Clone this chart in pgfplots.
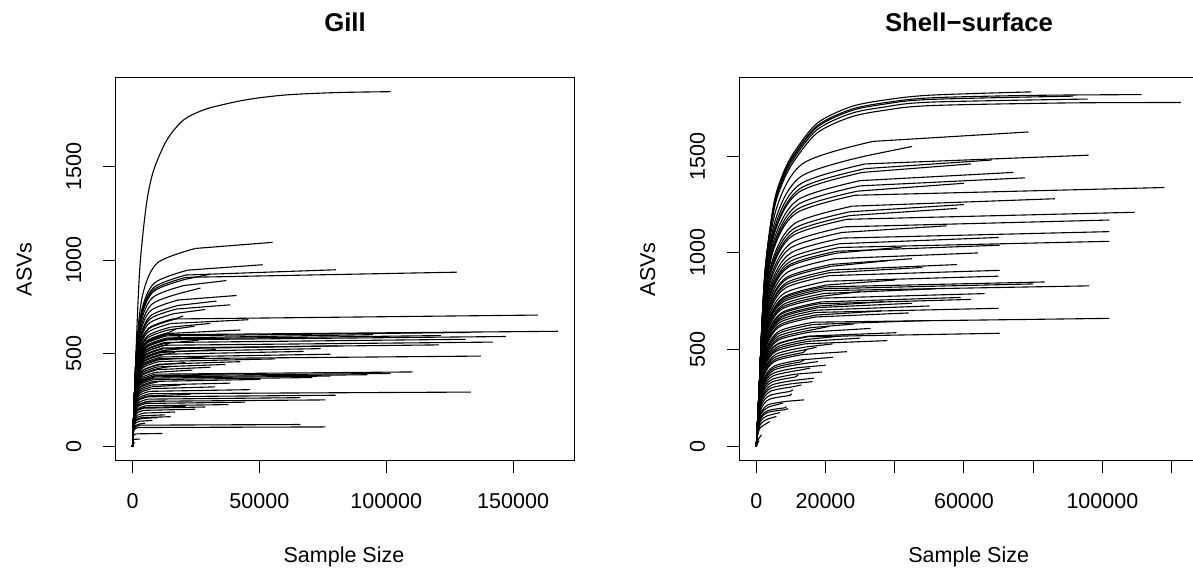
\documentclass[border=0pt]{standalone}
\usepackage{fontspec}
\setmainfont{Liberation Sans}
\usepackage{pgfplots}
\pgfplotsset{compat=1.18}
\pgfplotsset{
 rare/.style={
  scale only axis, width=229.5pt, height=191.5pt, anchor=south west,
  axis line style={line width=0.5pt, black},
  tick align=outside, major tick length=6.35pt,
  xtick pos=left, ytick pos=left,
  tick style={black, line width=0.5pt},
  scaled x ticks=false, scaled y ticks=false,
  every tick label/.append style={font=\fontsize{10.75pt}{12pt}\selectfont},
  /pgf/number format/assume math mode=true,
  yticklabel style={rotate=90, anchor=south, inner sep=0pt},
  xticklabel style={anchor=north, inner sep=0pt},
  xticklabel shift=9.95pt, yticklabel shift=10.55pt,
  every axis plot post/.append style={black, solid, mark=none, line width=0.55pt, tension=0.5},
 }
}
\begin{document}
\begin{tikzpicture}
\begin{axis}[rare, at={(57.75pt,55.15pt)},
  xmin=-6700, xmax=174200, ymin=-76, ymax=1978,
  xtick={0,50000,100000,150000}, xticklabels={0,50000,100000,150000},
  ytick={0,500,1000,1500}, yticklabels={0,500,1000,1500}]
\addplot[smooth] coordinates {(0,0)(800,270)(1700,620)(3000,980)(5500,1300)(8300,1480)(13600,1645)(20000,1750)(27000,1800)(33000,1825)(45000,1860)(60000,1885)(80000,1898)(101700,1903)};
\addplot[smooth] coordinates {(0,0)(660,219)(1650,547.5)(4125,821.3)(9900,985.5)(24750,1062.2)};\addplot[sharp plot] coordinates {(24750,1062.2)(55200,1095)};
\addplot[smooth] coordinates {(0,0)(580,195)(1450,487.5)(3625,731.3)(8700,877.5)(21750,945.8)};\addplot[sharp plot] coordinates {(21750,945.8)(51300,975)};
\addplot[smooth] coordinates {(0,0)(560,189.6)(1400,474)(3500,711)(8400,853.2)(21000,919.6)};\addplot[sharp plot] coordinates {(21000,919.6)(80100,948)};
\addplot[smooth] coordinates {(0,0)(560,187)(1400,467.5)(3500,701.3)(8400,841.5)(21000,907)};\addplot[sharp plot] coordinates {(21000,907)(127800,935)};
\addplot[smooth] coordinates {(0,0)(560,185)(1400,462.5)(3500,693.8)(8400,832.5)(21000,897.3)};\addplot[sharp plot] coordinates {(21000,897.3)(30800,925)};
\addplot[smooth] coordinates {(0,0)(540,178)(1350,445)(3375,667.5)(8100,801)(20250,863.3)};\addplot[sharp plot] coordinates {(20250,863.3)(37000,890)};
\addplot[smooth] coordinates {(0,0)(520,170)(1300,425)(3250,637.5)(7800,765)(19500,824.5)};\addplot[sharp plot] coordinates {(19500,824.5)(26800,850)};
\addplot[smooth] coordinates {(0,0)(480,162)(1200,405)(3000,607.5)(7200,729)(18000,785.7)};\addplot[sharp plot] coordinates {(18000,785.7)(41000,810)};
\addplot[smooth] coordinates {(0,0)(480,156)(1200,390)(3000,585)(7200,702)(18000,756.6)};\addplot[sharp plot] coordinates {(18000,756.6)(33100,780)};
\addplot[smooth] coordinates {(0,0)(460,152)(1150,380)(2875,570)(6900,684)(17250,737.2)};\addplot[sharp plot] coordinates {(17250,737.2)(38600,760)};
\addplot[smooth] coordinates {(0,0)(440,147)(1100,367.5)(2750,551.3)(6600,661.5)(16500,713)};\addplot[sharp plot] coordinates {(16500,713)(28700,735)};
\addplot[smooth] coordinates {(0,0)(420,141)(1050,352.5)(2625,528.8)(6300,634.5)(15750,683.9)};\addplot[sharp plot] coordinates {(15750,683.9)(159800,705)};
\addplot[smooth] coordinates {(0,0)(400,136)(1000,340)(2500,510)(6000,612)(15000,659.6)};\addplot[sharp plot] coordinates {(15000,659.6)(45700,680)};
\addplot[smooth] coordinates {(0,0)(400,132)(1000,330)(2500,495)(6000,594)(15000,640.2)};\addplot[sharp plot] coordinates {(15000,640.2)(30700,660)};
\addplot[smooth] coordinates {(0,0)(380,129)(950,322.5)(2375,483.8)(5700,580.5)(14250,625.7)};\addplot[sharp plot] coordinates {(14250,625.7)(24400,645)};
\addplot[smooth] coordinates {(0,0)(380,125)(950,312.5)(2375,468.8)(5700,562.5)(14250,606.3)};\addplot[sharp plot] coordinates {(14250,606.3)(42500,625)};
\addplot[smooth] coordinates {(0,0)(360,123.6)(900,309)(2250,463.5)(5400,556.2)(13500,599.5)};\addplot[sharp plot] coordinates {(13500,599.5)(167600,618)};
\addplot[smooth] coordinates {(0,0)(360,122.4)(900,306)(2250,459)(5400,550.8)(13500,593.6)};\addplot[sharp plot] coordinates {(13500,593.6)(133300,612)};
\addplot[smooth] coordinates {(0,0)(360,120)(900,300)(2250,450)(5400,540)(13500,582)};\addplot[sharp plot] coordinates {(13500,582)(94700,600)};
\addplot[smooth] coordinates {(0,0)(360,119)(900,297.5)(2250,446.3)(5400,535.5)(13500,577.2)};\addplot[sharp plot] coordinates {(13500,577.2)(121500,595)};
\addplot[smooth] coordinates {(0,0)(360,118)(900,295)(2250,442.5)(5400,531)(13500,572.3)};\addplot[sharp plot] coordinates {(13500,572.3)(147200,590)};
\addplot[smooth] coordinates {(0,0)(340,115)(850,287.5)(2125,431.3)(5100,517.5)(12750,557.8)};\addplot[sharp plot] coordinates {(12750,557.8)(131300,575)};
\addplot[smooth] coordinates {(0,0)(340,112)(850,280)(2125,420)(5100,504)(12750,543.2)};\addplot[sharp plot] coordinates {(12750,543.2)(142000,560)};
\addplot[smooth] coordinates {(0,0)(320,109)(800,272.5)(2000,408.8)(4800,490.5)(12000,528.7)};\addplot[sharp plot] coordinates {(12000,528.7)(120700,545)};
\addplot[smooth] coordinates {(0,0)(320,108)(800,270)(2000,405)(4800,486)(12000,523.8)};\addplot[sharp plot] coordinates {(12000,523.8)(80800,540)};
\addplot[smooth] coordinates {(0,0)(320,105)(800,262.5)(2000,393.8)(4800,472.5)(12000,509.3)};\addplot[sharp plot] coordinates {(12000,509.3)(74100,525)};
\addplot[smooth] coordinates {(0,0)(300,102)(750,255)(1875,382.5)(4500,459)(11250,494.7)};\addplot[sharp plot] coordinates {(11250,494.7)(67400,510)};
\addplot[smooth] coordinates {(0,0)(300,99)(750,247.5)(1875,371.3)(4500,445.5)(11250,480.2)};\addplot[sharp plot] coordinates {(11250,480.2)(78000,495)};
\addplot[smooth] coordinates {(0,0)(280,97)(700,242.5)(1750,363.8)(4200,436.5)(10500,470.5)};\addplot[sharp plot] coordinates {(10500,470.5)(137300,485)};
\addplot[smooth] coordinates {(0,0)(280,94)(700,235)(1750,352.5)(4200,423)(10500,455.9)};\addplot[sharp plot] coordinates {(10500,455.9)(56300,470)};
\addplot[smooth] coordinates {(0,0)(280,91)(700,227.5)(1750,341.3)(4200,409.5)(10500,441.4)};\addplot[sharp plot] coordinates {(10500,441.4)(42500,455)};
\addplot[smooth] coordinates {(0,0)(260,88)(650,220)(1625,330)(3900,396)(9750,426.8)};\addplot[sharp plot] coordinates {(9750,426.8)(36600,440)};
\addplot[smooth] coordinates {(0,0)(260,85)(650,212.5)(1625,318.8)(3900,382.5)(9750,412.3)};\addplot[sharp plot] coordinates {(9750,412.3)(30700,425)};
\addplot[smooth] coordinates {(0,0)(240,82)(600,205)(1500,307.5)(3600,369)(9000,397.7)};\addplot[sharp plot] coordinates {(9000,397.7)(23600,410)};
\addplot[smooth] coordinates {(0,0)(240,80)(600,200)(1500,300)(3600,360)(9000,388)};\addplot[sharp plot] coordinates {(9000,388)(110400,400)};
\addplot[smooth] coordinates {(0,0)(240,78.4)(600,196)(1500,294)(3600,352.8)(9000,380.2)};\addplot[sharp plot] coordinates {(9000,380.2)(101700,392)};
\addplot[smooth] coordinates {(0,0)(240,77)(600,192.5)(1500,288.8)(3600,346.5)(9000,373.5)};\addplot[sharp plot] coordinates {(9000,373.5)(92600,385)};
\addplot[smooth] coordinates {(0,0)(220,75.6)(550,189)(1375,283.5)(3300,340.2)(8250,366.7)};\addplot[sharp plot] coordinates {(8250,366.7)(78000,378)};
\addplot[smooth] coordinates {(0,0)(220,74)(550,185)(1375,277.5)(3300,333)(8250,358.9)};\addplot[sharp plot] coordinates {(8250,358.9)(70900,370)};
\addplot[smooth] coordinates {(0,0)(220,72)(550,180)(1375,270)(3300,324)(8250,349.2)};\addplot[sharp plot] coordinates {(8250,349.2)(50400,360)};
\addplot[smooth] coordinates {(0,0)(200,68)(500,170)(1250,255)(3000,306)(7500,329.8)};\addplot[sharp plot] coordinates {(7500,329.8)(38600,340)};
\addplot[smooth] coordinates {(0,0)(200,64)(500,160)(1250,240)(3000,288)(7500,310.4)};\addplot[sharp plot] coordinates {(7500,310.4)(32600,320)};
\addplot[smooth] coordinates {(0,0)(180,61)(450,152.5)(1125,228.8)(2700,274.5)(6750,295.9)};\addplot[sharp plot] coordinates {(6750,295.9)(46400,305)};
\addplot[smooth] coordinates {(0,0)(180,58.4)(450,146)(1125,219)(2700,262.8)(6750,283.2)};\addplot[sharp plot] coordinates {(6750,283.2)(133400,292)};
\addplot[smooth] coordinates {(0,0)(160,55)(400,137.5)(1000,206.3)(2400,247.5)(6000,266.8)};\addplot[sharp plot] coordinates {(6000,266.8)(80100,275)};
\addplot[smooth] coordinates {(0,0)(160,52.4)(400,131)(1000,196.5)(2400,235.8)(6000,254.1)};\addplot[sharp plot] coordinates {(6000,254.1)(66200,262)};
\addplot[smooth] coordinates {(0,0)(160,50)(400,125)(1000,187.5)(2400,225)(6000,242.5)};\addplot[sharp plot] coordinates {(6000,242.5)(76000,250)};
\addplot[smooth] coordinates {(0,0)(140,47.6)(350,119)(875,178.5)(2100,214.2)(5250,230.9)};\addplot[sharp plot] coordinates {(5250,230.9)(44500,238)};
\addplot[smooth] coordinates {(0,0)(140,45)(350,112.5)(875,168.8)(2100,202.5)(5250,218.3)};\addplot[sharp plot] coordinates {(5250,218.3)(37800,225)};
\addplot[smooth] coordinates {(0,0)(120,42.4)(300,106)(750,159)(1800,190.8)(4500,205.6)};\addplot[sharp plot] coordinates {(4500,205.6)(28700,212)};
\addplot[smooth] coordinates {(0,0)(120,40)(300,100)(750,150)(1800,180)(4500,194)};\addplot[sharp plot] coordinates {(4500,194)(24700,200)};
\addplot[smooth] coordinates {(0,0)(120,37)(300,92.5)(750,138.8)(1800,166.5)(4500,179.5)};\addplot[sharp plot] coordinates {(4500,179.5)(16800,185)};
\addplot[smooth] coordinates {(0,0)(100,34)(250,85)(625,127.5)(1500,153)(3750,164.9)};\addplot[sharp plot] coordinates {(3750,164.9)(12900,170)};
\addplot[smooth] coordinates {(0,0)(100,31)(250,77.5)(625,116.3)(1500,139.5)(3750,150.4)};\addplot[sharp plot] coordinates {(3750,150.4)(10100,155)};
\addplot[smooth] coordinates {(0,0)(80,28)(200,70)(500,105)(1200,126)(3000,135.8)};\addplot[sharp plot] coordinates {(3000,135.8)(7800,140)};
\addplot[smooth] coordinates {(0,0)(80,25)(200,62.5)(500,93.8)(1200,112.5)(3000,121.3)};\addplot[sharp plot] coordinates {(3000,121.3)(5000,125)};
\addplot[smooth] coordinates {(0,0)(80,23.6)(200,59)(500,88.5)(1200,106.2)(3000,114.5)};\addplot[sharp plot] coordinates {(3000,114.5)(66200,118)};
\addplot[smooth] coordinates {(0,0)(60,21)(150,52.5)(375,78.8)(900,94.5)(2250,101.9)};\addplot[sharp plot] coordinates {(2250,101.9)(76000,105)};
\addplot[smooth] coordinates {(0,0)(40,14)(100,35)(250,52.5)(600,63)(1500,67.9)};\addplot[sharp plot] coordinates {(1500,67.9)(11800,70)};
\addplot[smooth] coordinates {(0,0)(24,8)(60,20)(150,30)(360,36)(900,38.8)};\addplot[sharp plot] coordinates {(900,38.8)(3000,40)};
\addplot[smooth] coordinates {(0,0)(12,4)(30,10)(75,15)(180,18)(450,19.4)};\addplot[sharp plot] coordinates {(450,19.4)(1000,20)};
\addplot[smooth] coordinates {(0,0)(360,118)(900,295)(2250,442.5)(5400,531)(13500,572.3)};\addplot[sharp plot] coordinates {(13500,572.3)(18900,590)};
\addplot[smooth] coordinates {(0,0)(340,112)(850,280)(2125,420)(5100,504)(12750,543.2)};\addplot[sharp plot] coordinates {(12750,543.2)(15000,560)};
\addplot[smooth] coordinates {(0,0)(320,106)(800,265)(2000,397.5)(4800,477)(12000,514.1)};\addplot[sharp plot] coordinates {(12000,514.1)(22800,530)};
\addplot[smooth] coordinates {(0,0)(300,101)(750,252.5)(1875,378.8)(4500,454.5)(11250,489.9)};\addplot[sharp plot] coordinates {(11250,489.9)(16800,505)};
\addplot[smooth] coordinates {(0,0)(280,96)(700,240)(1750,360)(4200,432)(10500,465.6)};\addplot[sharp plot] coordinates {(10500,465.6)(28700,480)};
\addplot[smooth] coordinates {(0,0)(260,90)(650,225)(1625,337.5)(3900,405)(9750,436.5)};\addplot[sharp plot] coordinates {(9750,436.5)(20800,450)};
\addplot[smooth] coordinates {(0,0)(260,86)(650,215)(1625,322.5)(3900,387)(9750,417.1)};\addplot[sharp plot] coordinates {(9750,417.1)(15000,430)};
\addplot[smooth] coordinates {(0,0)(200,70)(500,175)(1250,262.5)(3000,315)(7500,339.5)};\addplot[sharp plot] coordinates {(7500,339.5)(11000,350)};
\addplot[smooth] coordinates {(0,0)(200,66)(500,165)(1250,247.5)(3000,297)(7500,320.1)};\addplot[sharp plot] coordinates {(7500,320.1)(18900,330)};
\addplot[smooth] coordinates {(0,0)(160,56)(400,140)(1000,210)(2400,252)(6000,271.6)};\addplot[sharp plot] coordinates {(6000,271.6)(22800,280)};
\addplot[smooth] coordinates {(0,0)(140,49)(350,122.5)(875,183.8)(2100,220.5)(5250,237.7)};\addplot[sharp plot] coordinates {(5250,237.7)(12900,245)};
\addplot[smooth] coordinates {(0,0)(120,43)(300,107.5)(750,161.3)(1800,193.5)(4500,208.6)};\addplot[sharp plot] coordinates {(4500,208.6)(20800,215)};
\addplot[smooth] coordinates {(0,0)(100,32)(250,80)(625,120)(1500,144)(3750,155.2)};\addplot[sharp plot] coordinates {(3750,155.2)(15000,160)};
\addplot[smooth] coordinates {(0,0)(420,140)(1050,350)(2625,525)(6300,630)(15750,679)};\addplot[sharp plot] coordinates {(15750,679)(20000,700)};
\addplot[smooth] coordinates {(0,0)(380,126)(950,315)(2375,472.5)(5700,567)(14250,611.1)};\addplot[sharp plot] coordinates {(14250,611.1)(17000,630)};
\addplot[smooth] coordinates {(0,0)(340,114)(850,285)(2125,427.5)(5100,513)(12750,552.9)};\addplot[sharp plot] coordinates {(12750,552.9)(26000,570)};
\addplot[smooth] coordinates {(0,0)(300,104)(750,260)(1875,390)(4500,468)(11250,504.4)};\addplot[sharp plot] coordinates {(11250,504.4)(33000,520)};
\addplot[smooth] coordinates {(0,0)(240,78)(600,195)(1500,292.5)(3600,351)(9000,378.3)};\addplot[sharp plot] coordinates {(9000,378.3)(36000,390)};
\end{axis}
\begin{axis}[rare, at={(369.65pt,55.15pt)},
  xmin=-4912, xmax=127712, ymin=-73.3, ymax=1905.3,
  xtick={0,20000,40000,60000,80000,100000,120000}, xticklabels={0,20000,,60000,,100000,},
  ytick={0,500,1000,1500}, yticklabels={0,500,1000,1500}]
\addplot[smooth] coordinates {(0,0)(1000,366)(2500,900)(5000,1250)(7500,1400)(10700,1514)(17500,1669)(27100,1754)(36700,1789)(50200,1815)(79500,1832)};
\addplot[smooth] coordinates {(0,0)(1000,363)(2500,893)(5000,1240)(7500,1389)(10700,1502)(17500,1656)(27100,1740)(36700,1775)(50200,1801)(80000,1814)(111300,1818)};
\addplot[smooth] coordinates {(0,0)(980,362)(2450,889)(5000,1235)(7500,1383)(10700,1496)(17500,1649)(27100,1733)(36700,1768)(50200,1793)(91500,1810)};
\addplot[smooth] coordinates {(0,0)(980,359)(2450,882)(5000,1225)(7500,1372)(10700,1484)(17500,1636)(27100,1719)(36700,1753)(50200,1779)(95700,1795)};
\addplot[smooth] coordinates {(0,0)(980,355)(2450,873)(5000,1213)(7500,1358)(10700,1469)(17500,1619)(27100,1701)(36700,1736)(50200,1761)(90000,1775)(122700,1777)};
\addplot[smooth] coordinates {(0,0)(900,325)(2250,812.5)(5625,1218.8)(13500,1462.5)(33750,1576.3)};\addplot[sharp plot] coordinates {(33750,1576.3)(78600,1625)};
\addplot[smooth] coordinates {(0,0)(840,301)(2100,752.5)(5250,1128.8)(12600,1354.5)(31500,1459.9)};\addplot[sharp plot] coordinates {(31500,1459.9)(96000,1505)};
\addplot[smooth] coordinates {(0,0)(840,296)(2100,740)(5250,1110)(12600,1332)(31500,1435.6)};\addplot[sharp plot] coordinates {(31500,1435.6)(68000,1480)};
\addplot[smooth] coordinates {(0,0)(820,292)(2050,730)(5125,1095)(12300,1314)(30750,1416.2)};\addplot[sharp plot] coordinates {(30750,1416.2)(62000,1460)};
\addplot[smooth] coordinates {(0,0)(800,283.2)(2000,708)(5000,1062)(12000,1274.4)(30000,1373.5)};\addplot[sharp plot] coordinates {(30000,1373.5)(74300,1416)};
\addplot[smooth] coordinates {(0,0)(800,277.6)(2000,694)(5000,1041)(12000,1249.2)(30000,1346.4)};\addplot[sharp plot] coordinates {(30000,1346.4)(77700,1388)};
\addplot[smooth] coordinates {(0,0)(760,267.6)(1900,669)(4750,1003.5)(11400,1204.2)(28500,1297.9)};\addplot[sharp plot] coordinates {(28500,1297.9)(117900,1338)};
\addplot[smooth] coordinates {(0,0)(740,256)(1850,640)(4625,960)(11100,1152)(27750,1241.6)};\addplot[sharp plot] coordinates {(27750,1241.6)(86300,1280)};
\addplot[smooth] coordinates {(0,0)(720,250)(1800,625)(4500,937.5)(10800,1125)(27000,1212.5)};\addplot[sharp plot] coordinates {(27000,1212.5)(60000,1250)};
\addplot[smooth] coordinates {(0,0)(700,242)(1750,605)(4375,907.5)(10500,1089)(26250,1173.7)};\addplot[sharp plot] coordinates {(26250,1173.7)(109300,1210)};
\addplot[smooth] coordinates {(0,0)(680,234)(1700,585)(4250,877.5)(10200,1053)(25500,1134.9)};\addplot[sharp plot] coordinates {(25500,1134.9)(102000,1170)};
\addplot[smooth] coordinates {(0,0)(660,228)(1650,570)(4125,855)(9900,1026)(24750,1105.8)};\addplot[sharp plot] coordinates {(24750,1105.8)(55000,1140)};
\addplot[smooth] coordinates {(0,0)(660,222)(1650,555)(4125,832.5)(9900,999)(24750,1076.7)};\addplot[sharp plot] coordinates {(24750,1076.7)(102000,1110)};
\addplot[smooth] coordinates {(0,0)(640,216)(1600,540)(4000,810)(9600,972)(24000,1047.6)};\addplot[sharp plot] coordinates {(24000,1047.6)(70000,1080)};
\addplot[smooth] coordinates {(0,0)(640,212)(1600,530)(4000,795)(9600,954)(24000,1028.2)};\addplot[sharp plot] coordinates {(24000,1028.2)(102000,1060)};
\addplot[smooth] coordinates {(0,0)(620,208)(1550,520)(3875,780)(9300,936)(23250,1008.8)};\addplot[sharp plot] coordinates {(23250,1008.8)(70300,1040)};
\addplot[smooth] coordinates {(0,0)(600,200)(1500,500)(3750,750)(9000,900)(22500,970)};\addplot[sharp plot] coordinates {(22500,970)(64000,1000)};
\addplot[smooth] coordinates {(0,0)(580,194)(1450,485)(3625,727.5)(8700,873)(21750,940.9)};\addplot[sharp plot] coordinates {(21750,940.9)(45000,970)};
\addplot[smooth] coordinates {(0,0)(580,188)(1450,470)(3625,705)(8700,846)(21750,911.8)};\addplot[sharp plot] coordinates {(21750,911.8)(58000,940)};
\addplot[smooth] coordinates {(0,0)(560,182)(1400,455)(3500,682.5)(8400,819)(21000,882.7)};\addplot[sharp plot] coordinates {(21000,882.7)(70300,910)};
\addplot[smooth] coordinates {(0,0)(540,176)(1350,440)(3375,660)(8100,792)(20250,853.6)};\addplot[sharp plot] coordinates {(20250,853.6)(70000,880)};
\addplot[smooth] coordinates {(0,0)(520,170)(1300,425)(3250,637.5)(7800,765)(19500,824.5)};\addplot[sharp plot] coordinates {(19500,824.5)(83300,850)};
\addplot[smooth] coordinates {(0,0)(520,168)(1300,420)(3250,630)(7800,756)(19500,814.8)};\addplot[sharp plot] coordinates {(19500,814.8)(80000,840)};
\addplot[smooth] coordinates {(0,0)(520,166)(1300,415)(3250,622.5)(7800,747)(19500,805.1)};\addplot[sharp plot] coordinates {(19500,805.1)(96200,830)};
\addplot[smooth] coordinates {(0,0)(520,163)(1300,407.5)(3250,611.3)(7800,733.5)(19500,790.6)};\addplot[sharp plot] coordinates {(19500,790.6)(52000,815)};
\addplot[smooth] coordinates {(0,0)(500,158)(1250,395)(3125,592.5)(7500,711)(18750,766.3)};\addplot[sharp plot] coordinates {(18750,766.3)(66000,790)};
\addplot[smooth] coordinates {(0,0)(500,154)(1250,385)(3125,577.5)(7500,693)(18750,746.9)};\addplot[sharp plot] coordinates {(18750,746.9)(59000,770)};
\addplot[smooth] coordinates {(0,0)(480,152)(1200,380)(3000,570)(7200,684)(18000,737.2)};\addplot[sharp plot] coordinates {(18000,737.2)(62000,760)};
\addplot[smooth] coordinates {(0,0)(480,149.6)(1200,374)(3000,561)(7200,673.2)(18000,725.6)};\addplot[sharp plot] coordinates {(18000,725.6)(37100,748)};
\addplot[smooth] coordinates {(0,0)(460,145.2)(1150,363)(2875,544.5)(6900,653.4)(17250,704.2)};\addplot[sharp plot] coordinates {(17250,704.2)(50000,726)};
\addplot[smooth] coordinates {(0,0)(460,142.8)(1150,357)(2875,535.5)(6900,642.6)(17250,692.6)};\addplot[sharp plot] coordinates {(17250,692.6)(70000,714)};
\addplot[smooth] coordinates {(0,0)(460,138)(1150,345)(2875,517.5)(6900,621)(17250,669.3)};\addplot[sharp plot] coordinates {(17250,669.3)(44000,690)};
\addplot[smooth] coordinates {(0,0)(440,132.4)(1100,331)(2750,496.5)(6600,595.8)(16500,642.1)};\addplot[sharp plot] coordinates {(16500,642.1)(102000,662)};
\addplot[smooth] coordinates {(0,0)(420,126.6)(1050,316.5)(2625,474.8)(6300,569.7)(15750,614)};\addplot[sharp plot] coordinates {(15750,614)(28200,633)};
\addplot[smooth] coordinates {(0,0)(420,122)(1050,305)(2625,457.5)(6300,549)(15750,591.7)};\addplot[sharp plot] coordinates {(15750,591.7)(33000,610)};
\addplot[smooth] coordinates {(0,0)(400,117.6)(1000,294)(2500,441)(6000,529.2)(15000,570.4)};\addplot[sharp plot] coordinates {(15000,570.4)(40500,588)};
\addplot[smooth] coordinates {(0,0)(400,117)(1000,292.5)(2500,438.8)(6000,526.5)(15000,567.5)};\addplot[sharp plot] coordinates {(15000,567.5)(70300,585)};
\addplot[smooth] coordinates {(0,0)(400,114.2)(1000,285.5)(2500,428.3)(6000,513.9)(15000,553.9)};\addplot[sharp plot] coordinates {(15000,553.9)(24600,571)};
\addplot[smooth] coordinates {(0,0)(380,109.4)(950,273.5)(2375,410.3)(5700,492.3)(14250,530.6)};\addplot[sharp plot] coordinates {(14250,530.6)(37900,547)};
\addplot[smooth] coordinates {(0,0)(380,106)(950,265)(2375,397.5)(5700,477)(14250,514.1)};\addplot[sharp plot] coordinates {(14250,514.1)(22000,530)};
\addplot[smooth] coordinates {(0,0)(360,102.6)(900,256.5)(2250,384.8)(5400,461.7)(13500,497.6)};\addplot[sharp plot] coordinates {(13500,497.6)(17400,513)};
\addplot[smooth] coordinates {(0,0)(360,98)(900,245)(2250,367.5)(5400,441)(13500,475.3)};\addplot[sharp plot] coordinates {(13500,475.3)(26200,490)};
\addplot[smooth] coordinates {(0,0)(340,92.2)(850,230.5)(2125,345.8)(5100,414.9)(12750,447.2)};\addplot[sharp plot] coordinates {(12750,447.2)(22200,461)};
\addplot[smooth] coordinates {(0,0)(340,87.8)(850,219.5)(2125,329.3)(5100,395.1)(12750,425.8)};\addplot[sharp plot] coordinates {(12750,425.8)(17800,439)};
\addplot[smooth] coordinates {(0,0)(320,84)(800,210)(2000,315)(4800,378)(12000,407.4)};\addplot[sharp plot] coordinates {(12000,407.4)(20000,420)};
\addplot[smooth] coordinates {(0,0)(320,81)(800,202.5)(2000,303.8)(4800,364.5)(12000,392.9)};\addplot[sharp plot] coordinates {(12000,392.9)(15600,405)};
\addplot[smooth] coordinates {(0,0)(300,74)(750,185)(1875,277.5)(4500,333)(11250,358.9)};\addplot[sharp plot] coordinates {(11250,358.9)(12100,370)};
\addplot[smooth] coordinates {(0,0)(300,70.6)(750,176.5)(1875,264.8)(4500,317.7)(11250,342.4)};\addplot[sharp plot] coordinates {(11250,342.4)(16600,353)};
\addplot[smooth] coordinates {(0,0)(280,67)(700,167.5)(1750,251.3)(4200,301.5)(10500,325)};\addplot[sharp plot] coordinates {(10500,325)(16200,335)};
\addplot[smooth] coordinates {(0,0)(280,63.6)(700,159)(1750,238.5)(4200,286.2)(10500,308.5)};\addplot[sharp plot] coordinates {(10500,308.5)(13000,318)};
\addplot[smooth] coordinates {(0,0)(260,58.6)(650,146.5)(1625,219.8)(3900,263.7)(9750,284.2)};\addplot[sharp plot] coordinates {(9750,284.2)(10600,293)};
\addplot[smooth] coordinates {(0,0)(260,54.4)(650,136)(1625,204)(3900,244.8)(9750,263.8)};\addplot[sharp plot] coordinates {(9750,263.8)(10200,272)};
\addplot[smooth] coordinates {(0,0)(240,48.2)(600,120.5)(1500,180.8)(3600,216.9)(9000,233.8)};\addplot[sharp plot] coordinates {(9000,233.8)(13800,241)};
\addplot[smooth] coordinates {(0,0)(220,44.8)(550,112)(1375,168)(3300,201.6)(7700,224)};
\addplot[smooth] coordinates {(0,0)(220,41.2)(550,103)(1375,154.5)(3300,185.4)(8250,199.8)};\addplot[sharp plot] coordinates {(8250,199.8)(8700,206)};
\addplot[smooth] coordinates {(0,0)(220,39.2)(550,98)(1375,147)(3300,176.4)(8250,190.1)};\addplot[sharp plot] coordinates {(8250,190.1)(9200,196)};
\addplot[smooth] coordinates {(0,0)(200,35)(500,87.5)(1250,131.3)(3000,157.5)(6800,175)};
\addplot[smooth] coordinates {(0,0)(200,31)(500,77.5)(1250,116.3)(3000,139.5)(5800,155)};
\addplot[smooth] coordinates {(0,0)(180,25.8)(450,64.5)(1125,96.8)(2700,116.1)(3900,129)};
\addplot[smooth] coordinates {(0,0)(140,12)(350,30)(875,45)(1500,60)};
\addplot[smooth] coordinates {(0,0)(120,6)(300,15)(800,30)};
\addplot[smooth] coordinates {(0,0)(580,192)(1450,480)(3625,720)(8700,864)(21750,931.2)};\addplot[sharp plot] coordinates {(21750,931.2)(38000,960)};
\addplot[smooth] coordinates {(0,0)(560,185)(1400,462.5)(3500,693.8)(8400,832.5)(21000,897.3)};\addplot[sharp plot] coordinates {(21000,897.3)(48000,925)};
\addplot[smooth] coordinates {(0,0)(540,172)(1350,430)(3375,645)(8100,774)(20250,834.2)};\addplot[sharp plot] coordinates {(20250,834.2)(40000,860)};
\addplot[smooth] coordinates {(0,0)(500,160)(1250,400)(3125,600)(7500,720)(18750,776)};\addplot[sharp plot] coordinates {(18750,776)(30000,800)};
\addplot[smooth] coordinates {(0,0)(480,148)(1200,370)(3000,555)(7200,666)(18000,717.8)};\addplot[sharp plot] coordinates {(18000,717.8)(45000,740)};
\addplot[smooth] coordinates {(0,0)(460,140)(1150,350)(2875,525)(6900,630)(17250,679)};\addplot[sharp plot] coordinates {(17250,679)(36000,700)};
\addplot[smooth] coordinates {(0,0)(440,130)(1100,325)(2750,487.5)(6600,585)(16500,630.5)};\addplot[sharp plot] coordinates {(16500,630.5)(48000,650)};
\addplot[smooth] coordinates {(0,0)(420,124)(1050,310)(2625,465)(6300,558)(15750,601.4)};\addplot[sharp plot] coordinates {(15750,601.4)(21000,620)};
\addplot[smooth] coordinates {(0,0)(400,112)(1000,280)(2500,420)(6000,504)(15000,543.2)};\addplot[sharp plot] coordinates {(15000,543.2)(30000,560)};
\addplot[smooth] coordinates {(0,0)(360,100)(900,250)(2250,375)(5400,450)(13500,485)};\addplot[sharp plot] coordinates {(13500,485)(14500,500)};
\addplot[smooth] coordinates {(0,0)(340,90)(850,225)(2125,337.5)(5100,405)(12750,436.5)};\addplot[sharp plot] coordinates {(12750,436.5)(14000,450)};
\addplot[smooth] coordinates {(0,0)(300,77)(750,192.5)(1875,288.8)(4500,346.5)(11250,373.5)};\addplot[sharp plot] coordinates {(11250,373.5)(19000,385)};
\addplot[smooth] coordinates {(0,0)(860,310)(2150,775)(5375,1162.5)(12900,1395)(32250,1503.5)};\addplot[sharp plot] coordinates {(32250,1503.5)(45000,1550)};
\addplot[smooth] coordinates {(0,0)(780,272)(1950,680)(4875,1020)(11700,1224)(29250,1319.2)};\addplot[sharp plot] coordinates {(29250,1319.2)(60000,1360)};
\addplot[smooth] coordinates {(0,0)(720,246)(1800,615)(4500,922.5)(10800,1107)(27000,1193.1)};\addplot[sharp plot] coordinates {(27000,1193.1)(58000,1230)};
\addplot[smooth] coordinates {(0,0)(620,206)(1550,515)(3875,772.5)(9300,927)(23250,999.1)};\addplot[sharp plot] coordinates {(23250,999.1)(42000,1030)};
\end{axis}
\node[anchor=base, font=\bfseries\fontsize{12.85pt}{15pt}\selectfont] at (172.5pt,269.8pt) {Gill};
\node[anchor=base, font=\bfseries\fontsize{12.85pt}{15pt}\selectfont] at (484.5pt,269.8pt) {Shell−surface};
\node[anchor=base, font=\fontsize{10.75pt}{12pt}\selectfont] at (172pt,4.45pt) {Sample Size};
\node[anchor=base, font=\fontsize{10.75pt}{12pt}\selectfont] at (484.35pt,4.45pt) {Sample Size};
\node[anchor=base, rotate=90, font=\fontsize{10.75pt}{12pt}\selectfont] at (15.85pt,150.9pt) {ASVs};
\node[anchor=base, rotate=90, font=\fontsize{10.75pt}{12pt}\selectfont] at (327.5pt,150.9pt) {ASVs};
\pgfresetboundingbox
\useasboundingbox (0,0) rectangle (596.5pt,285.5pt);
\end{tikzpicture}
\end{document}
